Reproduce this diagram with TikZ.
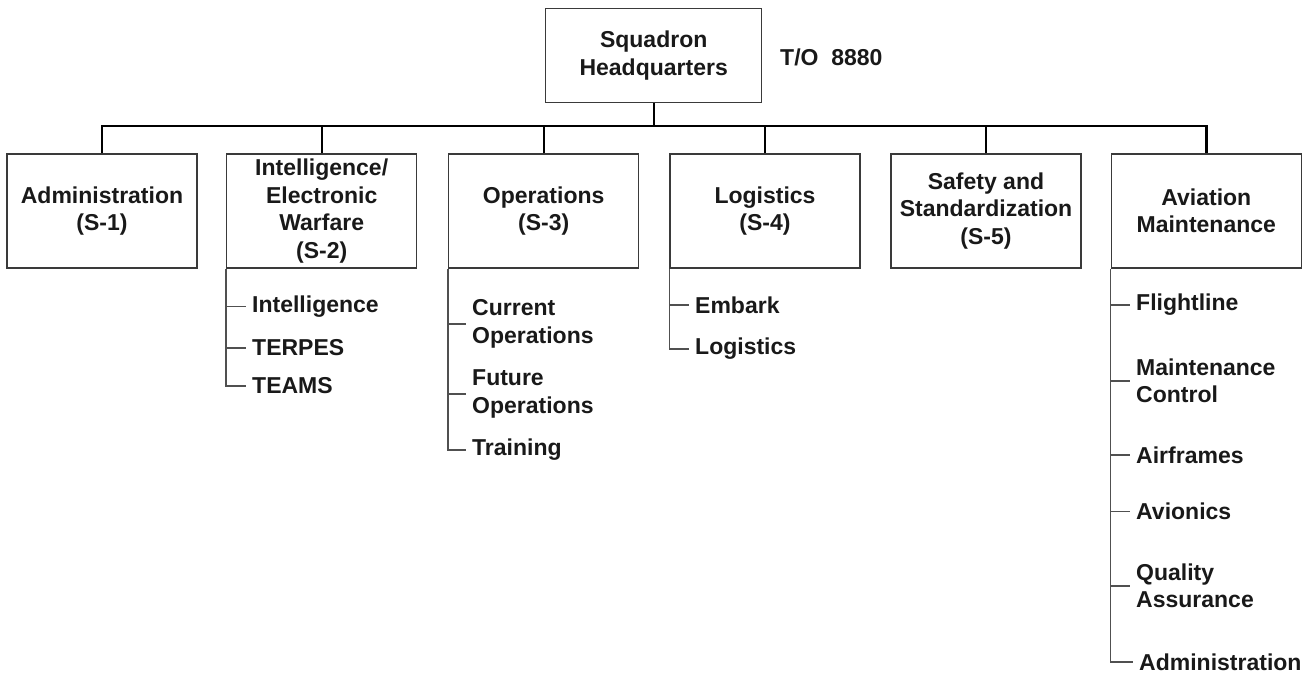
\documentclass[tikz,border=0pt]{standalone}
\usepackage{fontspec}
\setmainfont{Liberation Sans}
\definecolor{boxgray}{HTML}{3A3A3A}
\definecolor{subgray}{HTML}{505050}
\begin{document}
\begin{tikzpicture}[x=1pt,y=-1pt,
  every node/.style={font=\bfseries\fontsize{23}{27.5}\selectfont, text=black!90},
  unit/.style={draw=boxgray, line width=1.4pt, minimum width=190pt, minimum height=114pt, align=center, inner sep=2pt},
  hqbox/.style={unit, minimum width=216pt, minimum height=94pt},
  item/.style={anchor=west, align=left, inner xsep=6pt, inner ysep=0pt},
  tree/.style={line width=2.4pt, black},
  sub/.style={line width=1.3pt, subgray}]
\useasboundingbox (0,0) rectangle (1307,673);
% headquarters
\node[hqbox] (hq) at (653.7,55.3) {Squadron\\Headquarters};
\node[anchor=west, inner sep=0pt] (to) at (780,57) {T/O\ \ 8880};
\coordinate (bus) at (0,126);
% sections
\node[unit] (admin) at (102,211) {Administration\\(S-1)};
\node[unit] (intel) at (321.7,211) {Intelligence/\\Electronic\\Warfare\\(S-2)};
\node[unit] (ops) at (543.7,211) {Operations\\(S-3)};
\node[unit] (log) at (765,211) {Logistics\\(S-4)};
\node[unit] (safe) at (986,211) {Safety and\\Standardization\\(S-5)};
\node[unit] (avm) at (1206.3,211) {Aviation\\Maintenance};
% tree
\draw[tree] (hq.south) -- (hq.south |- bus);
\draw[tree] (admin.north) -- (admin.north |- bus) -- (avm.north |- bus) -- (avm.north);
\foreach \n in {intel,ops,log,safe} \draw[tree] (\n.north) -- (\n.north |- bus);
% intelligence items
\node[item] (i1) at (246,306.7) {Intelligence};
\node[item] (i2) at (246,348) {TERPES};
\node[item] (i3) at (246,386) {TEAMS};
\draw[sub] (intel.south west) |- (i3.west);
\foreach \n in {i1,i2} \draw[sub] (intel.south west |- \n.west) -- (\n.west);
% operations items
\node[item] (o1) at (466,324) {Current\\Operations};
\node[item] (o2) at (466,394) {Future\\Operations};
\node[item] (o3) at (466,450) {Training};
\draw[sub] (ops.south west) |- (o3.west);
\foreach \n in {o1,o2} \draw[sub] (ops.south west |- \n.west) -- (\n.west);
% logistics items
\node[item] (l1) at (689,305) {Embark};
\node[item] (l2) at (689,349) {Logistics};
\draw[sub] (log.south west) |- (l2.west);
\draw[sub] (log.south west |- l1.west) -- (l1.west);
% aviation maintenance items
\node[item] (a1) at (1130,305) {Flightline};
\node[item] (a2) at (1130,381) {Maintenance\\Control};
\node[item] (a3) at (1130,455) {Airframes};
\node[item] (a4) at (1130,511.7) {Avionics};
\node[item] (a5) at (1130,586) {Quality\\Assurance};
\node[item] (a6) at (1133,662) {Administration};
\draw[sub] (avm.south west) |- (a6.west);
\foreach \n in {a1,a2,a3,a4,a5} \draw[sub] (avm.south west |- \n.west) -- (\n.west);
\end{tikzpicture}
\end{document}
